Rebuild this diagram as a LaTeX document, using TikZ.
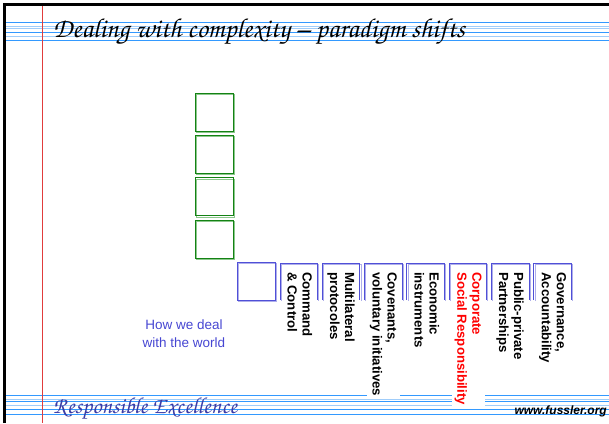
\documentclass[tikz,border=0pt]{standalone}
\usepackage[T1]{fontenc}
\usepackage{fontspec}
\setsansfont{Liberation Sans}
\usepackage{tikz}
\usetikzlibrary{positioning,shadows}

\definecolor{lineblue}{RGB}{51,153,255}
\definecolor{lightline}{RGB}{160,205,250}
\definecolor{marginred}{RGB}{225,60,60}
\definecolor{boxgreen}{RGB}{20,130,20}
\definecolor{shadegreen}{RGB}{140,200,140}
\definecolor{boxblue}{RGB}{80,80,215}
\definecolor{shadeblue}{RGB}{175,175,235}
\definecolor{worldblue}{RGB}{70,70,210}
\definecolor{signblue}{RGB}{60,60,165}

\newcommand{\chancery}{\fontencoding{T1}\fontfamily{pzc}\fontseries{mb}\fontshape{it}\selectfont}

\tikzset{
  greensq/.style={draw=boxgreen, line width=1pt, minimum size=38pt, inner sep=0pt,
    drop shadow={fill=none, draw=shadegreen, opacity=1, shadow xshift=1.2pt, shadow yshift=-1.2pt}},
  bluesq/.style={greensq, draw=boxblue,
    drop shadow={fill=none, draw=shadeblue, opacity=1, shadow xshift=1.2pt, shadow yshift=-1.2pt}},
  coltext/.style={rotate=-90, anchor=north west, fill=white, align=left, inner sep=3pt,
    font=\sffamily\bfseries\fontsize{13.2}{15}\selectfont}
}

\begin{document}
\begin{tikzpicture}[x=1pt, y=-1pt]
  \useasboundingbox (0,0) rectangle (609,423);

  % lined paper
  \foreach \y/\c in {22.5/lineblue, 26.5/lightline, 28.5/lightline, 32/lineblue, 36/lightline, 40.5/lineblue,
                     395.5/lineblue, 399.5/lightline, 401.5/lineblue, 405/lightline, 409/lineblue, 414/lineblue}
    \draw[\c, line width=1pt] (6,\y) -- (609,\y);
  \draw[marginred, line width=1pt] (42,6) -- (42,423);
  \draw[line width=3pt] (4.5,423) -- (4.5,4.5) -- (609,4.5);

  % stacked squares
  \node[greensq] (g4) at (214.2,239.2) {};
  \node[greensq, above=3.3pt of g4] (g3) {};
  \node[greensq, above=3.3pt of g3] (g2) {};
  \node[greensq, above=3.3pt of g2] (g1) {};
  \node[bluesq, below right=3.3pt and 3.3pt of g4] (world box) {};

  \node[text=worldblue, align=center, font=\sffamily\fontsize{13.5}{18}\selectfont] (world) at (184,334)
    {How we deal\\with the world};

  % the paradigms
  \foreach \txt/\col [count=\i from 0] in {{Command\\\& Control}/black, {Multilateral\\protocoles}/black,
      {Covenants,\\voluntary initiatives}/black, {Economic\\instruments}/black,
      {Corporate\\Social Responsibility}/red, {Public-private\\Partnerships}/black,
      {Governance,\\Accountability}/black}
  {
    \pgfmathsetmacro\xl{280+42.3*\i}
    \draw[shadeblue, line width=1pt] (\xl+1.2,301) -- (\xl+1.2,264.2) -- (\xl+38.7,264.2) -- (\xl+38.7,301);
    \draw[boxblue, line width=1pt] (\xl,300) -- (\xl,263) -- (\xl+37.5,263) -- (\xl+37.5,300);
    \node[coltext, text=\col] (col\i) at (\xl+35.5,269) {\txt};
  }

  \node[anchor=base west, inner sep=0pt] (title) at (53,37)
    {\fontsize{27.3}{28}\chancery Dealing with complexity -- paradigm shifts};
  \node[anchor=base west, inner sep=0pt, text=signblue] (motto) at (53,413)
    {\fontsize{23}{23}\chancery Responsible Excellence};
  \node[anchor=base east, inner sep=0pt, font=\sffamily\bfseries\itshape\fontsize{12}{12}\selectfont] (site)
    at (607,414) {www.fussler.org};
\end{tikzpicture}
\end{document}
